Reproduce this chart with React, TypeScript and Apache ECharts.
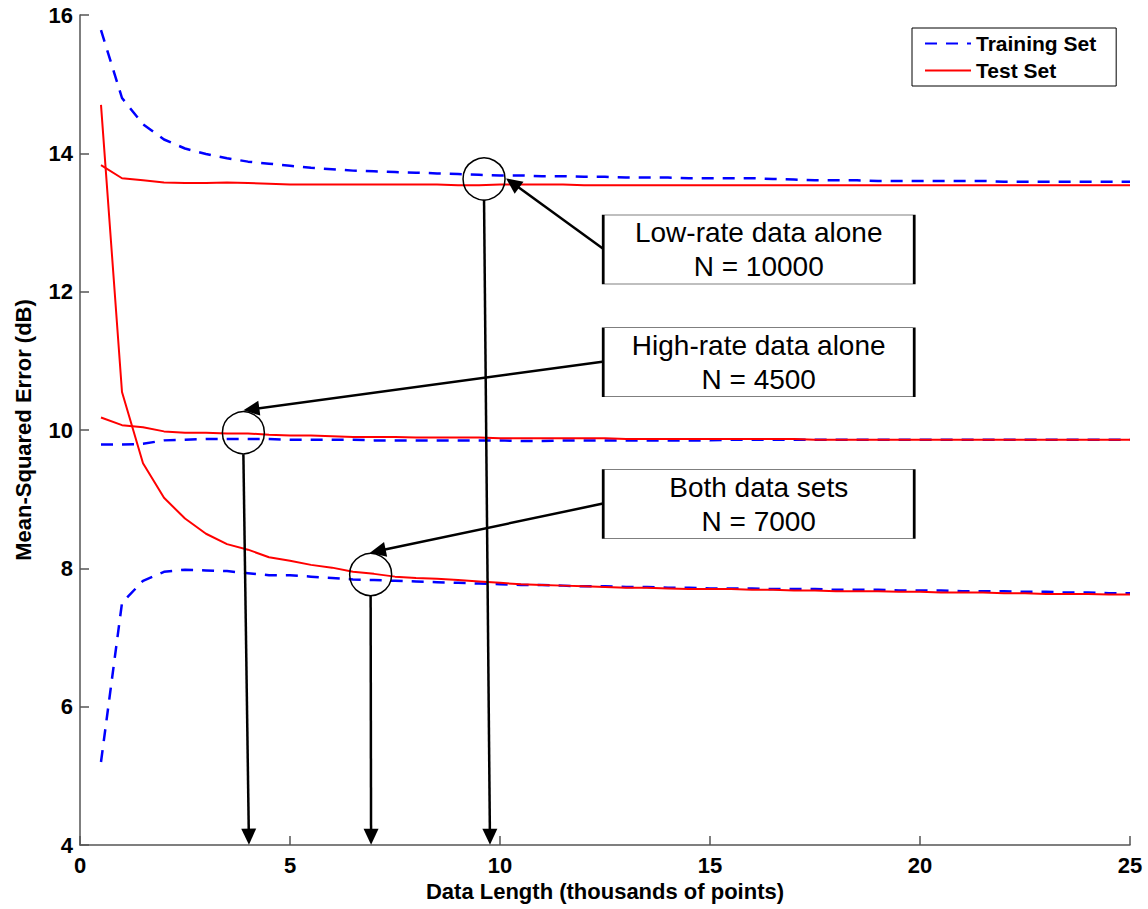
import React, { useEffect, useRef } from 'react';
import * as echarts from 'echarts';

const FONT = '"Liberation Sans", Arial, Helvetica, sans-serif';

// x: data length (thousands of points)
const xs = [
  0.5, 1, 1.5, 2, 2.5, 3, 3.5, 4, 4.5, 5,
  5.5, 6, 6.5, 7, 7.5, 8, 8.5, 9, 9.5, 10,
  10.5, 11, 11.5, 12, 12.5, 13, 13.5, 14, 14.5, 15,
  15.5, 16, 16.5, 17, 17.5, 18, 18.5, 19, 19.5, 20,
  20.5, 21, 21.5, 22, 22.5, 23, 23.5, 24, 24.5, 25,
];

// Low-rate data alone
const lowTrain = [
  15.78, 14.80, 14.42, 14.20, 14.07, 13.99, 13.93, 13.88, 13.85, 13.82,
  13.79, 13.77, 13.75, 13.74, 13.73, 13.72, 13.71, 13.70, 13.69, 13.68,
  13.68, 13.67, 13.67, 13.66, 13.66, 13.65, 13.65, 13.65, 13.64, 13.64,
  13.64, 13.64, 13.63, 13.62, 13.61, 13.61, 13.61, 13.60, 13.60, 13.60,
  13.60, 13.60, 13.60, 13.59, 13.59, 13.59, 13.59, 13.59, 13.59, 13.59,
];
const lowTest = [
  13.83, 13.64, 13.61, 13.58, 13.57, 13.57, 13.58, 13.57, 13.56, 13.55,
  13.55, 13.55, 13.55, 13.55, 13.55, 13.55, 13.55, 13.54, 13.54, 13.55,
  13.55, 13.55, 13.55, 13.54, 13.54, 13.54, 13.54, 13.54, 13.54, 13.54,
  13.54, 13.54, 13.54, 13.54, 13.54, 13.54, 13.54, 13.54, 13.54, 13.54,
  13.54, 13.54, 13.54, 13.54, 13.54, 13.54, 13.54, 13.54, 13.54, 13.54,
];

// High-rate data alone
const highTrain = [
  9.79, 9.79, 9.80, 9.85, 9.86, 9.87, 9.87, 9.87, 9.87, 9.86,
  9.86, 9.86, 9.86, 9.85, 9.85, 9.85, 9.85, 9.85, 9.85, 9.85,
  9.84, 9.84, 9.85, 9.85, 9.85, 9.85, 9.85, 9.85, 9.85, 9.85,
  9.86, 9.86, 9.86, 9.86, 9.86, 9.86, 9.86, 9.86, 9.86, 9.86,
  9.86, 9.86, 9.86, 9.86, 9.86, 9.86, 9.86, 9.86, 9.86, 9.86,
];
const highTest = [
  10.18, 10.07, 10.04, 9.98, 9.96, 9.96, 9.95, 9.95, 9.93, 9.92,
  9.92, 9.91, 9.90, 9.90, 9.90, 9.89, 9.89, 9.89, 9.89, 9.88,
  9.88, 9.88, 9.88, 9.88, 9.88, 9.87, 9.87, 9.87, 9.87, 9.87,
  9.87, 9.87, 9.87, 9.87, 9.86, 9.86, 9.86, 9.86, 9.86, 9.86,
  9.86, 9.86, 9.86, 9.86, 9.86, 9.86, 9.86, 9.86, 9.86, 9.86,
];

// Both data sets
const bothTrain = [
  5.20, 7.50, 7.82, 7.95, 7.98, 7.97, 7.96, 7.93, 7.90, 7.90,
  7.88, 7.86, 7.84, 7.83, 7.82, 7.81, 7.80, 7.79, 7.78, 7.77,
  7.76, 7.76, 7.75, 7.74, 7.74, 7.73, 7.73, 7.72, 7.72, 7.71,
  7.71, 7.71, 7.70, 7.70, 7.70, 7.69, 7.69, 7.69, 7.68, 7.68,
  7.68, 7.67, 7.67, 7.67, 7.66, 7.66, 7.65, 7.65, 7.64, 7.64,
];
const bothTest = [
  14.70, 10.55, 9.52, 9.02, 8.72, 8.50, 8.35, 8.27, 8.16, 8.11,
  8.05, 8.01, 7.95, 7.92, 7.88, 7.86, 7.85, 7.83, 7.81, 7.79,
  7.77, 7.76, 7.75, 7.74, 7.73, 7.72, 7.72, 7.71, 7.70, 7.70,
  7.70, 7.69, 7.69, 7.68, 7.68, 7.67, 7.67, 7.67, 7.66, 7.66,
  7.65, 7.65, 7.65, 7.64, 7.64, 7.63, 7.63, 7.63, 7.62, 7.62,
];

// Annotations (data coordinates)
const circleCenters = [
  [9.62, 13.63],
  [3.89, 9.96],
  [6.92, 7.91],
];
const boxCenters = [
  [16.16, 12.61],
  [16.16, 10.98],
  [16.16, 8.93],
];
const boxTexts = [
  'Low-rate data alone\nN = 10000',
  'High-rate data alone\nN = 4500',
  'Both data sets\nN = 7000',
];
const arrowStarts = [
  [12.48, 12.61],
  [12.48, 10.99],
  [12.48, 8.94],
  [9.62, 13.33],
  [3.89, 9.65],
  [6.92, 7.6],
];
const arrowEnds = [
  [10.3, 13.57],
  [4.08, 10.3],
  [7.09, 8.25],
  [9.76, 4.12],
  [4.02, 4.12],
  [6.93, 4.12],
];

const BLUE = '#0000ff';
const RED = '#ff0000';
const AXIS = '#555555';

function makeSeries(name: string, values: number[], color: string, dashed: boolean) {
  return {
    name,
    type: 'line',
    data: xs.map((x, i) => [x, values[i]]),
    symbol: 'none',
    showSymbol: false,
    silent: true,
    lineStyle: dashed
      ? { color, width: 2.5, type: [12, 9] }
      : { color, width: 2, type: 'solid' },
    itemStyle: { color },
    emphasis: { disabled: true },
  };
}

export default function App() {
  const ref = useRef<HTMLDivElement>(null);

  useEffect(() => {
    const chart = echarts.init(ref.current as HTMLDivElement, null, { renderer: 'svg' });

    const markPointData: any[] = [];
    circleCenters.forEach((c) => {
      markPointData.push({
        coord: c,
        symbol: 'circle',
        symbolSize: 42,
        itemStyle: { color: 'rgba(0,0,0,0)', borderColor: '#000', borderWidth: 1.5 },
        label: { show: false },
      });
    });
    boxCenters.forEach((c, i) => {
      markPointData.push({
        coord: c,
        symbol: 'rect',
        symbolSize: [311, 69],
        itemStyle: { color: '#ffffff', borderColor: '#000', borderWidth: 1.3 },
        label: {
          show: true,
          position: 'inside',
          formatter: boxTexts[i],
          color: '#000',
          fontFamily: FONT,
          fontSize: 28,
          lineHeight: 34,
        },
      });
    });

    const markLineData = arrowStarts.map((s, i) => [
      { coord: s },
      { coord: arrowEnds[i] },
    ]);

    const series: any[] = [
      makeSeries('Training Set', lowTrain, BLUE, true),
      makeSeries('Test Set', lowTest, RED, false),
      makeSeries('Training Set', highTrain, BLUE, true),
      makeSeries('Test Set', highTest, RED, false),
      makeSeries('Training Set', bothTrain, BLUE, true),
      makeSeries('Test Set', bothTest, RED, false),
    ];
    series[5].markLine = {
      silent: true,
      animation: false,
      symbol: ['none', 'triangle'],
      symbolSize: [15, 16],
      label: { show: false },
      lineStyle: { color: '#000', width: 2.5, type: 'solid' },
      emphasis: { disabled: true },
      data: markLineData,
    };
    series[5].markPoint = {
      silent: true,
      animation: false,
      emphasis: { disabled: true },
      data: markPointData,
    };

    const axisText = { color: '#000', fontFamily: FONT, fontSize: 22, fontWeight: 'bold' };

    chart.setOption({
      animation: false,
      backgroundColor: '#ffffff',
      grid: { left: 80, right: 18, top: 15, bottom: 64, containLabel: false },
      legend: {
        data: ['Training Set', 'Test Set'],
        orient: 'vertical',
        left: 912,
        top: 28,
        padding: [5, 20, 5, 12],
        itemWidth: 46,
        itemHeight: 14,
        itemGap: 6,
        borderColor: '#000',
        borderWidth: 1,
        backgroundColor: '#fff',
        selectedMode: false,
        itemStyle: { color: 'rgba(0,0,0,0)', borderWidth: 0, opacity: 0 },
        textStyle: { color: '#000', fontFamily: FONT, fontSize: 21, fontWeight: 'bold' },
      },
      xAxis: {
        type: 'value',
        min: 0,
        max: 25,
        interval: 5,
        name: 'Data Length (thousands of points)',
        nameLocation: 'middle',
        nameGap: 26,
        nameTextStyle: { ...axisText, fontSize: 22 },
        axisLine: { show: true, onZero: false, lineStyle: { color: AXIS, width: 1.5 } },
        axisTick: { show: true, inside: true, length: 9, lineStyle: { color: AXIS, width: 1.5 } },
        axisLabel: { ...axisText, margin: 9 },
        splitLine: { show: false },
      },
      yAxis: {
        type: 'value',
        min: 4,
        max: 16,
        interval: 2,
        name: 'Mean-Squared Error (dB)',
        nameLocation: 'middle',
        nameRotate: 90,
        nameGap: 46,
        nameTextStyle: { ...axisText, fontSize: 22 },
        axisLine: { show: true, onZero: false, lineStyle: { color: AXIS, width: 1.5 } },
        axisTick: { show: true, inside: true, length: 9, lineStyle: { color: AXIS, width: 1.5 } },
        axisLabel: { ...axisText, margin: 7 },
        splitLine: { show: false },
      },
      series,
    });

    return () => {
      chart.dispose();
    };
  }, []);

  return (
    <div
      ref={ref}
      style={{ position: 'fixed', left: 0, top: 0, width: 1148, height: 909, background: '#fff' }}
    />
  );
}
